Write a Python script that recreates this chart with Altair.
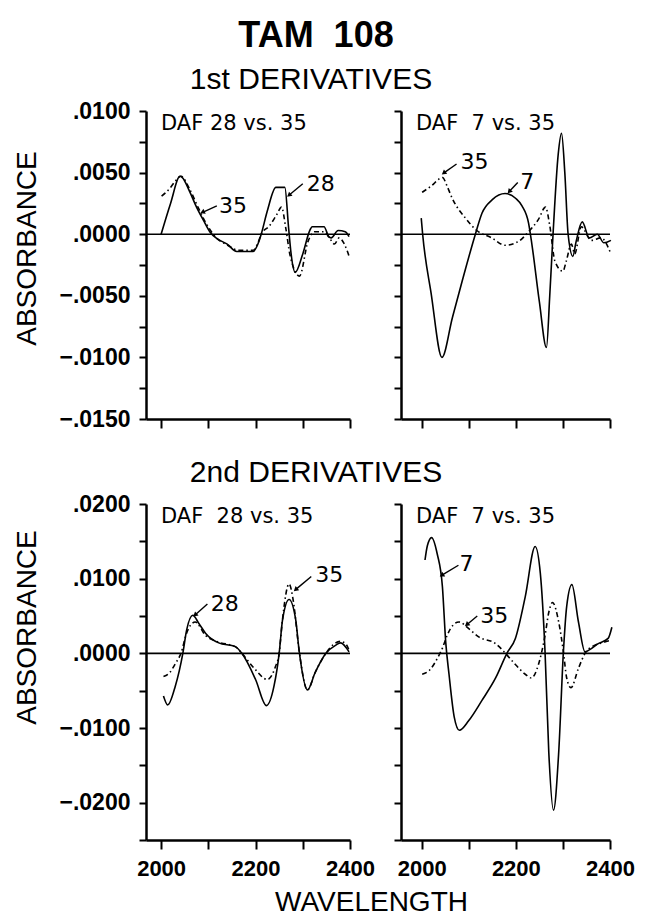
import altair as alt
import pandas as pd

FONT = "Liberation Sans"
ALT_FONT = "DejaVu Sans"

# ---------------- data ----------------
WAVE_MAJOR = [2000, 2200, 2400]
WAVE_MINOR = [2100, 2300]
Y1_MAJOR = [-0.015, -0.01, -0.005, 0.0, 0.005, 0.01]
Y1_MINOR = [-0.0125, -0.0075, -0.0025, 0.0025, 0.0075]
Y2_MAJOR = [-0.02, -0.01, 0.0, 0.01, 0.02]
Y2_MINOR = [-0.025, -0.015, -0.005, 0.005, 0.015]

# 1st derivative, DAF 28 vs. 35
TL28_X = [2000, 2020, 2040, 2045, 2060, 2075, 2090, 2103, 2120, 2140, 2160, 2195, 2205, 2212, 2225,
          2243, 2262, 2270, 2275, 2284, 2300, 2316, 2320, 2345, 2355, 2360, 2375, 2390, 2398]
TL28_Y = [0.0000, 0.0025, 0.0047, 0.0046, 0.0035, 0.0022, 0.0011, 0.0002, -0.0004, -0.0008, -0.0014,
          -0.0014, -0.0008, 0.0000, 0.0019, 0.0038, 0.0038, 0.0005, -0.0015, -0.0031, -0.0016, 0.0004,
          0.0006, 0.0006, -0.0002, -0.0003, 0.0003, 0.0002, -0.0002]
TL35_X = [2001, 2018, 2030, 2042, 2060, 2078, 2095, 2117, 2141, 2163, 2195, 2205, 2212, 2230, 2245,
          2255, 2264, 2273, 2293, 2311, 2325, 2345, 2358, 2367, 2377, 2388, 2399]
TL35_Y = [0.0031, 0.0037, 0.0043, 0.0047, 0.0037, 0.0022, 0.0009, -0.0003, -0.0009, -0.0013, -0.0013,
          -0.0007, 0.0000, 0.0007, 0.0016, 0.0022, 0.0005, -0.0017, -0.0034, -0.0006, 0.0002, 0.0002,
          -0.0004, -0.0008, -0.0003, -0.0008, -0.0019]

# 1st derivative, DAF 7 vs. 35
TR7_X = [1999, 2002, 2020, 2043, 2065, 2086, 2114, 2128, 2150, 2177, 2200, 2213, 2227, 2234, 2250,
         2265, 2272, 2279, 2290, 2297, 2304, 2311, 2321, 2328, 2341, 2356, 2373, 2387, 2402]
TR7_Y = [0.0013, 0.0000, -0.0048, -0.0100, -0.0068, -0.0038, 0.0000, 0.0017, 0.0028, 0.0033, 0.0029,
         0.0023, 0.0009, -0.0008, -0.0055, -0.0092, -0.0050, 0.0000, 0.0065, 0.0082, 0.0050, 0.0000,
         -0.0018, -0.0006, 0.0010, -0.0003, 0.0000, -0.0007, -0.0005]
TR35_X = [2001, 2020, 2044, 2055, 2065, 2093, 2117, 2149, 2177, 2205, 2227, 2248, 2263, 2272, 2283,
          2300, 2307, 2318, 2325, 2339, 2360, 2381, 2402]
TR35_Y = [0.0034, 0.0039, 0.0046, 0.0038, 0.0029, 0.0013, 0.0003, -0.0003, -0.0009, -0.0006, 0.0002,
          0.0012, 0.0022, 0.0007, -0.0022, -0.0030, -0.0022, -0.0008, -0.0016, 0.0006, -0.0005,
          -0.0003, -0.0016]

# 2nd derivative, DAF 28 vs. 35
BL28_X = [2005, 2014, 2030, 2046, 2054, 2067, 2080, 2094, 2122, 2157, 2171, 2200, 2223, 2239, 2250,
          2257, 2271, 2285, 2292, 2310, 2326, 2349, 2370, 2380, 2398]
BL28_Y = [-0.0057, -0.0069, -0.0044, 0.0000, 0.0031, 0.0051, 0.0040, 0.0027, 0.0014, 0.0009, 0.0000,
          -0.0035, -0.0070, -0.0044, 0.0000, 0.0044, 0.0072, 0.0045, 0.0005, -0.0049, -0.0026, 0.0000,
          0.0011, 0.0014, 0.0002]
BL35_X = [2005, 2018, 2030, 2042, 2054, 2072, 2094, 2122, 2157, 2171, 2197, 2225, 2242, 2250, 2257,
          2271, 2280, 2292, 2310, 2326, 2349, 2365, 2380, 2392, 2398]
BL35_Y = [-0.0031, -0.0026, -0.0014, 0.0000, 0.0027, 0.0042, 0.0024, 0.0015, 0.0009, 0.0000, -0.0020,
          -0.0035, -0.0018, 0.0000, 0.0045, 0.0093, 0.0070, 0.0005, -0.0049, -0.0026, 0.0000, 0.0012,
          0.0016, 0.0012, 0.0004]

# 2nd derivative, DAF 7 vs. 35
BR7_X = [2007, 2012, 2021, 2033, 2044, 2051, 2058, 2069, 2080, 2100, 2128, 2157, 2181, 2199, 2220,
         2241, 2252, 2262, 2270, 2280, 2291, 2301, 2308, 2319, 2333, 2347, 2357, 2375, 2396, 2404]
BR7_Y = [0.0125, 0.0144, 0.0155, 0.0133, 0.0089, 0.0015, -0.0028, -0.0085, -0.0103, -0.0090, -0.0063,
         -0.0033, 0.0000, 0.0020, 0.0076, 0.0143, 0.0107, 0.0002, -0.0133, -0.0210, -0.0133, 0.0002,
         0.0063, 0.0092, 0.0042, 0.0002, 0.0005, 0.0013, 0.0020, 0.0035]
BR35_X = [2001, 2016, 2033, 2044, 2054, 2061, 2079, 2100, 2121, 2157, 2178, 2199, 2220, 2233, 2248,
          2262, 2270, 2278, 2291, 2301, 2308, 2317, 2333, 2347, 2368, 2382, 2399]
BR35_Y = [-0.0028, -0.0023, -0.0007, 0.0007, 0.0024, 0.0033, 0.0042, 0.0033, 0.0022, 0.0013, 0.0000,
          -0.0015, -0.0028, -0.0033, -0.0015, 0.0024, 0.0055, 0.0068, 0.0042, 0.0002, -0.0033, -0.0046,
          -0.0020, 0.0000, 0.0011, 0.0014, 0.0017]

# annotations: label, text x/y, arrow tail x/y, arrow tip x/y, head angle
TL_ANN = [("35", 2152, 0.0023, 2118, 0.0023, 2089, 0.0018, 245),
          ("28", 2338, 0.0041, 2300, 0.0041, 2272, 0.0032, 230)]
TR_ANN = [("35", 2112, 0.0059, 2074, 0.0057, 2048, 0.0050, 233),
          ("7", 2224, 0.0042, 2204, 0.0042, 2187, 0.0035, 222)]
BL_ANN = [("28", 2135, 0.0066, 2098, 0.0066, 2073, 0.0052, 230),
          ("35", 2356, 0.0105, 2318, 0.0103, 2286, 0.0086, 229)]
BR_ANN = [("7", 2095, 0.0119, 2078, 0.0118, 2044, 0.0105, 238),
          ("35", 2154, 0.0050, 2118, 0.0050, 2097, 0.0039, 231)]

MAIN_TITLE = "TAM\u00a0\u00a0108"
ROW_TITLES = ["1st DERIVATIVES", "2nd DERIVATIVES"]
NONE = None


def panel(xa, ya, xb, yb, tag, ann, xdom, ydom, ymajor, yminor, width, height,
          left, bottom, ytitle=None, heads=None):
    xsc = alt.Scale(domain=xdom, nice=False, zero=False)
    ysc = alt.Scale(domain=ydom, nice=False, zero=False)
    common = dict(domainColor="black", domainWidth=2.5, tickColor="black", tickWidth=2,
                  grid=False, labelColor="black", titleColor="black")
    xmaj = dict(values=WAVE_MAJOR, labels=bottom, tickSize=9, labelPadding=9, orient="bottom",
                labelFontSize=22, labelFontWeight="bold", labelFont=FONT, format="d",
                labelOverlap=False, labelFlush=False, **common)
    if bottom and left:
        xmaj.update(title="WAVELENGTH", titleX=225, titleY=70, titleFontSize=28,
                    titleFont=FONT, titleFontWeight="normal", titleBaseline="alphabetic",
                    titleAlign="center")
    else:
        xmaj.update(title="")
    ymaj = dict(values=ymajor, labels=left, tickSize=7, labelPadding=9, orient="left",
                labelExpr="replace(format(datum.value, '.4f'), '0.', '.')",
                labelFontSize=23, labelFontWeight="bold", labelFont=FONT,
                labelOverlap=False, labelFlush=False, **common)
    if ytitle is not None:
        ymaj.update(title="ABSORBANCE", titleX=-111, titleY=ytitle, titleFontSize=28,
                    titleFont=FONT, titleFontWeight="normal", titleAngle=270,
                    titleBaseline="alphabetic", titleAlign="center")
    else:
        ymaj.update(title="")
    xmin = dict(values=WAVE_MINOR, labels=False, domain=False, tickSize=9, orient="bottom",
                title="", **{k: v for k, v in common.items() if k not in ("domainColor", "domainWidth")})
    ymin = dict(values=yminor, labels=False, domain=False, tickSize=7, orient="left",
                title="", **{k: v for k, v in common.items() if k not in ("domainColor", "domainWidth")})

    da = pd.DataFrame({"wl": xa, "ab": ya})
    db = pd.DataFrame({"wl": xb, "ab": yb})
    solid = alt.Chart(da).mark_line(color="black", strokeWidth=1.6, interpolate="monotone").encode(
        x=alt.X("wl:Q", scale=xsc, axis=alt.Axis(**xmaj)),
        y=alt.Y("ab:Q", scale=ysc, axis=alt.Axis(**ymaj)),
    )
    dashed = alt.Chart(db).mark_line(color="black", strokeWidth=1.6, interpolate="monotone",
                                     strokeDash=[5, 3, 1.5, 3]).encode(
        x=alt.X("wl:Q", scale=xsc, axis=alt.Axis(**xmin)),
        y=alt.Y("ab:Q", scale=ysc, axis=alt.Axis(**ymin)),
    )
    zero = alt.Chart(pd.DataFrame({"z": [0.0]})).mark_rule(color="black", strokeWidth=1.6).encode(
        y=alt.Y("z:Q", scale=ysc, axis=NONE)
    )
    adf = pd.DataFrame(ann, columns=["lab", "tx", "ty", "ax", "ay", "bx", "by", "ang"])
    arrow = alt.Chart(adf).mark_rule(color="black", strokeWidth=1.4).encode(
        x=alt.X("ax:Q", scale=xsc, axis=NONE), y=alt.Y("ay:Q", scale=ysc, axis=NONE),
        x2="bx:Q", y2="by:Q")
    head = alt.Chart(adf).mark_point(shape="triangle", filled=True, color="black", size=30,
                                     opacity=1).encode(
        x=alt.X("bx:Q", scale=xsc, axis=NONE), y=alt.Y("by:Q", scale=ysc, axis=NONE),
        angle=alt.Angle("ang:Q", scale=None))
    text = alt.Chart(adf).mark_text(font=ALT_FONT, fontSize=22, color="black",
                                    baseline="middle", align="center").encode(
        x=alt.X("tx:Q", scale=xsc, axis=NONE), y=alt.Y("ty:Q", scale=ysc, axis=NONE),
        text="lab:N")
    tagc = alt.Chart(pd.DataFrame({"t": [tag]})).mark_text(
        font=ALT_FONT, fontSize=21, color="black", align="left", baseline="top").encode(
        x=alt.value(15), y=alt.value(2), text="t:N")
    layers = [solid, dashed, zero, arrow, head, text, tagc]
    for (txt, px, py, size, weight) in (heads or []):
        layers.append(alt.Chart(pd.DataFrame({"t": [txt]})).mark_text(
            font=FONT, fontSize=size, fontWeight=weight, color="black", align="center",
            baseline="alphabetic").encode(x=alt.value(px), y=alt.value(py), text="t:N"))
    return alt.layer(*layers).resolve_axis(x="independent", y="independent").properties(
        width=width, height=height)


LW, RW = 204, 209
H1, H2 = 308, 336
XL = [1968, 2400]
XR = [1956, 2400]
Y1 = [-0.015, 0.01]
Y2 = [-0.025, 0.02]

p1 = panel(TL28_X, TL28_Y, TL35_X, TL35_Y, "DAF\u00a028\u00a0vs.\u00a035", TL_ANN, XL, Y1,
           Y1_MAJOR, Y1_MINOR, LW, H1, True, False, ytitle=137,
           heads=[(MAIN_TITLE, 170, -64, 36, "bold"), (ROW_TITLES[0], 165, -22, 30, "normal")])
p2 = panel(TR7_X, TR7_Y, TR35_X, TR35_Y, "DAF\u00a0\u00a07\u00a0vs.\u00a035", TR_ANN, XR, Y1,
           Y1_MAJOR, Y1_MINOR, RW, H1, False, False)
p3 = panel(BL28_X, BL28_Y, BL35_X, BL35_Y, "DAF\u00a0\u00a028\u00a0vs.\u00a035", BL_ANN, XL, Y2,
           Y2_MAJOR, Y2_MINOR, LW, H2, True, True, ytitle=123,
           heads=[(ROW_TITLES[1], 170, -22, 30, "normal")])
p4 = panel(BR7_X, BR7_Y, BR35_X, BR35_Y, "DAF\u00a0\u00a07\u00a0vs.\u00a035", BR_ANN, XR, Y2,
           Y2_MAJOR, Y2_MINOR, RW, H2, False, True)

chart = alt.concat(
    p1, p2, p3, p4, columns=2, bounds="flush", spacing={"row": 85, "column": 51},
).properties(
    padding={"left": 5, "top": 10, "right": 0, "bottom": 0},
    background="white",
).configure_view(stroke=None)

chart.save("out.html", embed_options={"renderer": "svg", "actions": False})
